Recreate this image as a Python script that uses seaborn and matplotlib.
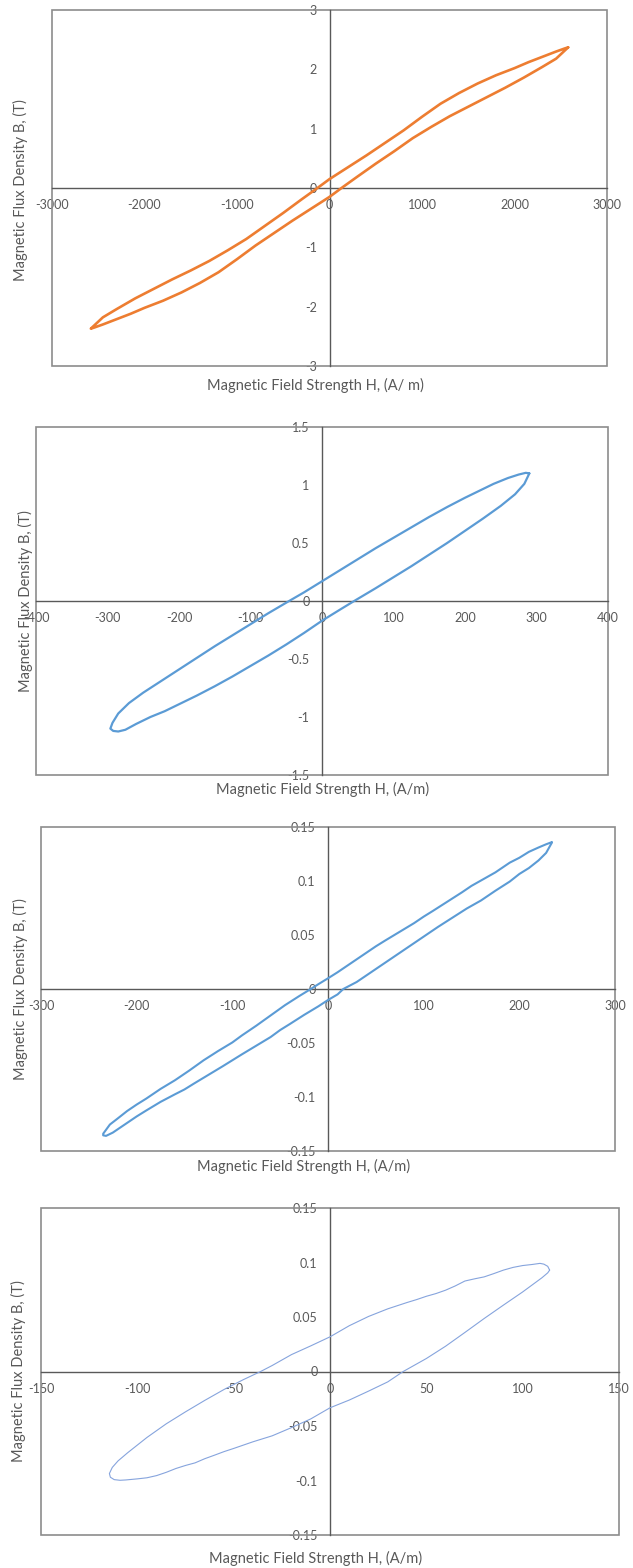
import numpy as np
import pandas as pd
import matplotlib
matplotlib.use("Agg")
import matplotlib.pyplot as plt
from matplotlib.patches import Rectangle
from matplotlib.ticker import MultipleLocator, FuncFormatter
import seaborn as sns

sns.set_style("white")
plt.rcParams['font.family'] = ['Lato', 'DejaVu Sans']
plt.rcParams['axes.unicode_minus'] = False

X_LABEL_1 = "Magnetic Field Strength H, (A/ m)"
X_LABEL = "Magnetic Field Strength H, (A/m)"
Y_LABEL = "Magnetic Flux Density B, (T)"

# panel 1 - orange loop (upper branch from + tip, lower branch from - tip)
h1_up = [2580, 2540, 2450, 2300, 2150, 2000, 1800, 1600, 1400, 1200, 1000, 800, 600, 400, 200, 0,
         -130, -300, -500, -700, -900, -1100, -1300, -1500, -1700, -1900, -2100, -2300, -2450, -2580]
b1_up = [2.37, 2.35, 2.30, 2.21, 2.12, 2.02, 1.90, 1.76, 1.60, 1.42, 1.20, 0.97, 0.76, 0.55, 0.35, 0.15,
         0.0, -0.19, -0.42, -0.64, -0.86, -1.05, -1.23, -1.39, -1.54, -1.70, -1.86, -2.04, -2.18, -2.37]
h1_lo = [-2580, -2540, -2450, -2300, -2150, -2000, -1800, -1600, -1400, -1200, -1000, -800, -600, -400, -200, 0,
         130, 300, 500, 700, 900, 1100, 1300, 1500, 1700, 1900, 2100, 2300, 2450, 2580]
b1_lo = [-2.37, -2.35, -2.30, -2.21, -2.12, -2.02, -1.90, -1.76, -1.60, -1.42, -1.20, -0.97, -0.76, -0.55, -0.35, -0.15,
         0.0, 0.19, 0.41, 0.62, 0.84, 1.03, 1.21, 1.37, 1.53, 1.69, 1.86, 2.04, 2.18, 2.37]

# panel 2
h2_up = [290, 285, 275, 260, 240, 220, 200, 175, 150, 125, 100, 75, 50, 25, 0, -25, -46, -75, -100,
         -125, -150, -175, -200, -225, -250, -270, -285, -293, -296]
b2_up = [1.10, 1.105, 1.09, 1.06, 1.01, 0.95, 0.89, 0.81, 0.725, 0.635, 0.545, 0.455, 0.36, 0.265, 0.17,
         0.075, 0.0, -0.105, -0.20, -0.295, -0.39, -0.49, -0.59, -0.69, -0.79, -0.88, -0.97, -1.05, -1.10]
h2_lo = [-296, -292, -285, -275, -260, -240, -220, -200, -175, -150, -125, -100, -75, -50, -25, 0, 25, 45,
         75, 100, 125, 150, 175, 200, 225, 250, 270, 283, 290]
b2_lo = [-1.10, -1.12, -1.125, -1.11, -1.06, -1.00, -0.95, -0.89, -0.815, -0.735, -0.65, -0.56, -0.47, -0.375,
         -0.275, -0.17, -0.075, 0.0, 0.11, 0.205, 0.30, 0.40, 0.50, 0.605, 0.71, 0.82, 0.92, 1.01, 1.10]

# panel 3
h3_up = [234, 228, 220, 210, 200, 190, 175, 160, 150, 140, 125, 110, 100, 90, 75, 60, 50, 40, 25, 10, 0,
         -10, -18, -30, -45, -60, -75, -90, -100, -115, -130, -145, -160, -175, -190, -200, -210, -220, -228, -235]
b3_up = [0.136, 0.134, 0.131, 0.127, 0.1215, 0.117, 0.108, 0.1005, 0.0955, 0.0895, 0.081, 0.0725, 0.067,
         0.061, 0.053, 0.045, 0.0395, 0.0335, 0.0245, 0.0155, 0.0099, 0.0045, 0.0, -0.0065, -0.015, -0.0245,
         -0.034, -0.043, -0.0495, -0.0575, -0.066, -0.0755, -0.0845, -0.0925, -0.1015, -0.107, -0.113, -0.12,
         -0.1255, -0.134]
h3_lo = [-235, -232, -225, -215, -200, -190, -175, -160, -150, -140, -125, -110, -100, -90, -75, -60, -50,
         -40, -25, -10, 0, 10, 16, 30, 45, 60, 75, 90, 100, 115, 130, 145, 160, 175, 190, 200, 210, 220, 228, 234]
b3_lo = [-0.1355, -0.136, -0.133, -0.127, -0.118, -0.1125, -0.1045, -0.0975, -0.093, -0.0875, -0.0795,
         -0.0715, -0.066, -0.0605, -0.0525, -0.0445, -0.038, -0.0325, -0.024, -0.016, -0.0102, -0.005, 0.0,
         0.0065, 0.0155, 0.0245, 0.0335, 0.0425, 0.0485, 0.0575, 0.066, 0.0745, 0.082, 0.091, 0.0995, 0.1065,
         0.112, 0.119, 0.126, 0.1355]

# panel 4
h4_up = [114, 113, 111, 109, 105, 100, 95, 90, 85, 80, 75, 70, 65, 60, 55, 50, 45, 40, 30, 20, 10, 0,
         -10, -20, -30, -36, -45, -55, -65, -75, -85, -95, -100, -105, -110, -113, -114.5]
b4_up = [0.093, 0.0965, 0.0985, 0.0992, 0.0982, 0.0972, 0.0955, 0.093, 0.0898, 0.0868, 0.085, 0.083,
         0.0785, 0.0746, 0.0715, 0.069, 0.066, 0.0633, 0.0575, 0.0505, 0.042, 0.0318, 0.0235, 0.0155, 0.0055,
         0.0, -0.0075, -0.0165, -0.0265, -0.037, -0.048, -0.0605, -0.0675, -0.0745, -0.082, -0.088, -0.0936]
h4_lo = [-114.5, -114, -112, -109, -106, -100, -95, -90, -85, -80, -75, -70, -65, -60, -55, -50, -40, -30,
         -20, -10, 0, 10, 20, 30, 38, 50, 60, 70, 80, 90, 100, 105, 110, 113, 114]
b4_lo = [-0.0936, -0.097, -0.0992, -0.0998, -0.0995, -0.0985, -0.0975, -0.0955, -0.0925, -0.089, -0.0862,
         -0.0838, -0.080, -0.0768, -0.0735, -0.0706, -0.0645, -0.059, -0.0515, -0.0435, -0.0333, -0.0262,
         -0.018, -0.0095, 0.0, 0.0119, 0.0232, 0.0358, 0.0486, 0.0609, 0.073, 0.0795, 0.086, 0.0905, 0.093]

W, H = 633, 1568
fig = plt.figure(figsize=(W / 100, H / 100), dpi=100)

GRAY = "#595959"

panels = [
    dict(h=h1_up + h1_lo, b=b1_up + b1_lo, box=(52, 607, 10, 366), xlim=3000, ylim=3,
         xmaj=1000, xmin=200, ymaj=1, ymin=0.2, color="#ED7D31", lw=1.9,
         xlabel=X_LABEL_1, xl=(315, 385), yl=(20, 190)),
    dict(h=h2_up + h2_lo, b=b2_up + b2_lo, box=(36, 608, 427, 775), xlim=400, ylim=1.5,
         xmaj=100, xmin=20, ymaj=0.5, ymin=0.1, color="#5B9BD5", lw=1.6,
         xlabel=X_LABEL, xl=(323, 789), yl=(25, 601)),
    dict(h=h3_up + h3_lo, b=b3_up + b3_lo, box=(41, 615, 827, 1151), xlim=300, ylim=0.15,
         xmaj=100, xmin=20, ymaj=0.05, ymin=0.01, color="#5B9BD5", lw=1.5,
         xlabel=X_LABEL, xl=(304, 1166), yl=(20, 989)),
    dict(h=h4_up + h4_lo, b=b4_up + b4_lo, box=(41, 619, 1208, 1535), xlim=150, ylim=0.15,
         xmaj=50, xmin=10, ymaj=0.05, ymin=0.01, color="#86A4DD", lw=0.8,
         xlabel=X_LABEL, xl=(316, 1558), yl=(18, 1371)),
]

fmt = FuncFormatter(lambda v, _: f"{round(v, 6) + 0:g}")

for p in panels:
    L, R, T, B = p["box"]
    ax = fig.add_axes([L / W, 1 - B / H, (R - L) / W, (B - T) / H])
    df = pd.DataFrame({"H": p["h"], "B": p["b"]})
    sns.lineplot(data=df, x="H", y="B", sort=False, estimator=None, color=p["color"],
                 lw=p["lw"], ax=ax, zorder=3)
    ax.set_xlim(-p["xlim"], p["xlim"])
    ax.set_ylim(-p["ylim"], p["ylim"])
    ax.set_xlabel("")
    ax.set_ylabel("")
    for s in ["top", "right"]:
        ax.spines[s].set_visible(False)
    for s in ["left", "bottom"]:
        ax.spines[s].set_position(("data", 0))
        ax.spines[s].set_color(GRAY)
        ax.spines[s].set_linewidth(1.0)
    ax.add_patch(Rectangle((0, 0), 1, 1, transform=ax.transAxes, fill=False,
                           edgecolor="#8C8C8C", lw=1.2, clip_on=False, zorder=1))
    ax.xaxis.set_major_locator(MultipleLocator(p["xmaj"]))
    ax.xaxis.set_minor_locator(MultipleLocator(p["xmin"]))
    ax.yaxis.set_major_locator(MultipleLocator(p["ymaj"]))
    ax.yaxis.set_minor_locator(MultipleLocator(p["ymin"]))
    ax.xaxis.set_major_formatter(fmt)
    ax.yaxis.set_major_formatter(fmt)
    ax.tick_params(which="major", direction="inout", length=6, width=0.9, color=GRAY,
                   labelcolor=GRAY, labelsize=9)
    ax.tick_params(which="minor", direction="in", length=3, width=0.8, color=GRAY)
    ax.tick_params(axis="x", which="major", pad=5)
    ax.tick_params(axis="y", which="major", pad=6)
    ax.set_facecolor("white")

    fig.text(p["xl"][0] / W, 1 - p["xl"][1] / H, p["xlabel"], ha="center", va="center",
             fontsize=10.5, color=GRAY)
    fig.text(p["yl"][0] / W, 1 - p["yl"][1] / H, Y_LABEL, ha="center", va="center",
             rotation=90, fontsize=10.5, color=GRAY)

fig.savefig("out.png", dpi=100, facecolor="white")
